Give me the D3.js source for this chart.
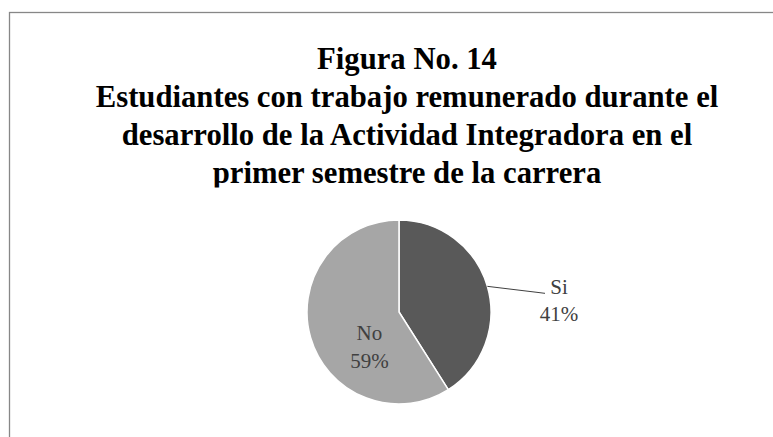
<!DOCTYPE html>
<html>
<head>
<meta charset="utf-8">
<script src="https://cdn.jsdelivr.net/npm/d3@7"></script>
<style>
  body { margin: 0; background: #fff; }
  svg { display: block; }
</style>
</head>
<body>
<div id="chart"></div>
<script>
// data
const titleLines = [
  "Figura No. 14",
  "Estudiantes con trabajo remunerado durante el",
  "desarrollo de la Actividad Integradora en el",
  "primer semestre de la carrera"
];
const categories = ["Si", "No"];
const values = [41, 59];
const sliceColors = ["#595959", "#a6a6a6"];

const W = 773, H = 437;
const cx = 399, cy = 312, r = 92;

const svg = d3.select("#chart").append("svg")
  .attr("width", W)
  .attr("height", H);

// chart frame (only top/left edge visible in the crop)
svg.append("rect")
  .attr("x", 9.5)
  .attr("y", 12.5)
  .attr("width", W + 20)
  .attr("height", H + 20)
  .attr("fill", "#fff")
  .attr("stroke", "#878787")
  .attr("stroke-width", 1.3);

// title, bottom line cut off by the plot area like in the original
svg.append("clipPath").attr("id", "titleClip")
  .append("rect").attr("x", 0).attr("y", 0).attr("width", W).attr("height", 187.5);

const title = svg.append("g").attr("clip-path", "url(#titleClip)");
const titleFont = "'Liberation Serif', 'Times New Roman', serif";

// pick a font size so the longest line is about as wide as in the picture
const probe = title.append("text")
  .style("font-family", titleFont).style("font-weight", "bold")
  .style("font-size", "100px").text(titleLines[1]);
const probeW = probe.node().getComputedTextLength();
probe.remove();
const titleSize = 100 * 623 / probeW;

title.selectAll("text.title")
  .data(titleLines)
  .enter()
  .append("text")
  .attr("class", "title")
  .attr("x", 407)
  .attr("y", (d, i) => 69 + 38 * i)
  .attr("text-anchor", "middle")
  .style("font-family", titleFont)
  .style("font-weight", "bold")
  .style("font-size", titleSize + "px")
  .style("fill", "#000")
  .text(d => d);

// pie
const pie = d3.pie().sort(null).value(d => d.value);
const arcs = pie(categories.map((c, i) => ({ name: c, value: values[i], color: sliceColors[i] })));
const arc = d3.arc().innerRadius(0).outerRadius(r);

const g = svg.append("g").attr("transform", `translate(${cx},${cy})`);

g.selectAll("path.slice")
  .data(arcs)
  .enter()
  .append("path")
  .attr("class", "slice")
  .attr("d", arc)
  .attr("fill", d => d.data.color)
  .attr("stroke", "#fff")
  .attr("stroke-width", 1.5);

const polar = (angle, rad) => [Math.sin(angle) * rad, -Math.cos(angle) * rad];
const labelFont = "'Liberation Serif', 'Times New Roman', serif";
const pct = d => Math.round(100 * d.value / d3.sum(values)) + "%";

// "Si": outside with leader line
const si = arcs[0];
const siMid = (si.startAngle + si.endAngle) / 2;
const p0 = polar(siMid, r);
const p1 = [r * 1.5, p0[1] + 6];
const p2 = [p1[0] + 8, p1[1] + 1];
g.append("polyline")
  .attr("points", [p0, p1, p2].map(p => p.join(",")).join(" "))
  .attr("fill", "none")
  .attr("stroke", "#404040")
  .attr("stroke-width", 1);

const siLabel = g.append("text")
  .attr("text-anchor", "middle")
  .style("font-family", labelFont)
  .style("font-size", "21px")
  .style("fill", "#404040");
siLabel.append("tspan").attr("x", p2[0] + 14).attr("y", p2[1] + 1).text(si.data.name);
siLabel.append("tspan").attr("x", p2[0] + 14).attr("y", p2[1] + 28).text(pct(si.data));

// "No": inside the slice
const no = arcs[1];
const noPos = polar(221 * Math.PI / 180, r * 0.49);
const noLabel = g.append("text")
  .attr("text-anchor", "middle")
  .style("font-family", labelFont)
  .style("font-size", "21px")
  .style("fill", "#404040");
noLabel.append("tspan").attr("x", noPos[0]).attr("y", noPos[1] - 6).text(no.data.name);
noLabel.append("tspan").attr("x", noPos[0]).attr("y", noPos[1] + 22).text(pct(no.data));
</script>
</body>
</html>
